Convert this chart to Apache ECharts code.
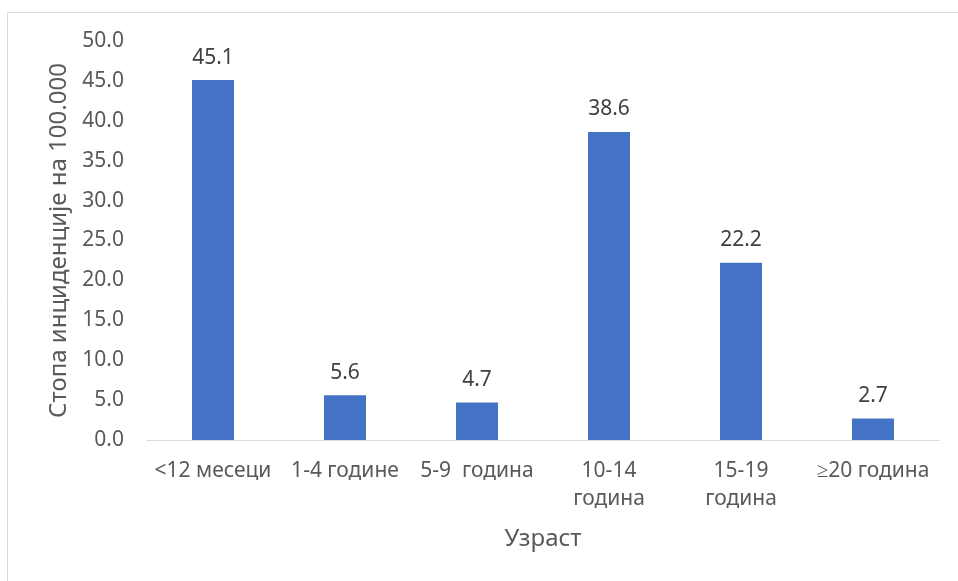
<!DOCTYPE html>
<html><head><meta charset="utf-8">
<script src="https://cdn.jsdelivr.net/npm/echarts@6/dist/echarts.min.js"></script>
<style>html,body{margin:0;padding:0;background:#fff}#c{width:958px;height:581px}</style>
</head><body><div id="c"></div>
<script>
const categories = ['<12 месеци', '1-4 године', '5-9  година', '10-14\nгодина', '15-19\nгодина', '≥20 година'];
const values = [45.1, 5.6, 4.7, 38.6, 22.2, 2.7];
const yTicks = {min: 0, max: 50, interval: 5};
const yName = 'Стопа инциденције на 100.000';
const xName = 'Узраст';

const FONT = 'Noto Sans';
const TXT = '#595959';
const chart = echarts.init(document.getElementById('c'));
chart.setOption({
  animation: false,
  textStyle: {fontFamily: FONT},
  graphic: [{type: 'rect', shape: {x: 7.5, y: 12.5, width: 1000, height: 1000}, style: {fill: 'none', stroke: '#d9d9d9', lineWidth: 1}}],
  grid: {left: 147, right: 19, top: 41, bottom: 141},
  xAxis: {
    type: 'category', data: categories,
    axisTick: {show: false},
    axisLine: {lineStyle: {color: '#d9d9d9', width: 1}},
    axisLabel: {color: TXT, fontSize: 21, margin: 17, lineHeight: 28, interval: 0, fontFamily: FONT},
    name: xName, nameLocation: 'middle', nameGap: 87,
    nameTextStyle: {color: TXT, fontSize: 24, fontFamily: FONT}
  },
  yAxis: {
    type: 'value', min: yTicks.min, max: yTicks.max, interval: yTicks.interval,
    splitLine: {show: false},
    axisLine: {show: false}, axisTick: {show: false},
    axisLabel: {color: TXT, fontSize: 21, margin: 23, formatter: v => v.toFixed(1), fontFamily: FONT},
    name: yName, nameLocation: 'middle', nameGap: 76,
    nameTextStyle: {color: TXT, fontSize: 24, fontFamily: FONT}
  },
  series: [{
    type: 'bar', data: values, barWidth: 42,
    itemStyle: {color: '#4472C4'},
    label: {show: true, position: 'top', distance: 12, color: '#404040', fontSize: 21, fontFamily: FONT, formatter: p => p.value.toFixed(1)}
  }]
});
</script></body></html>
